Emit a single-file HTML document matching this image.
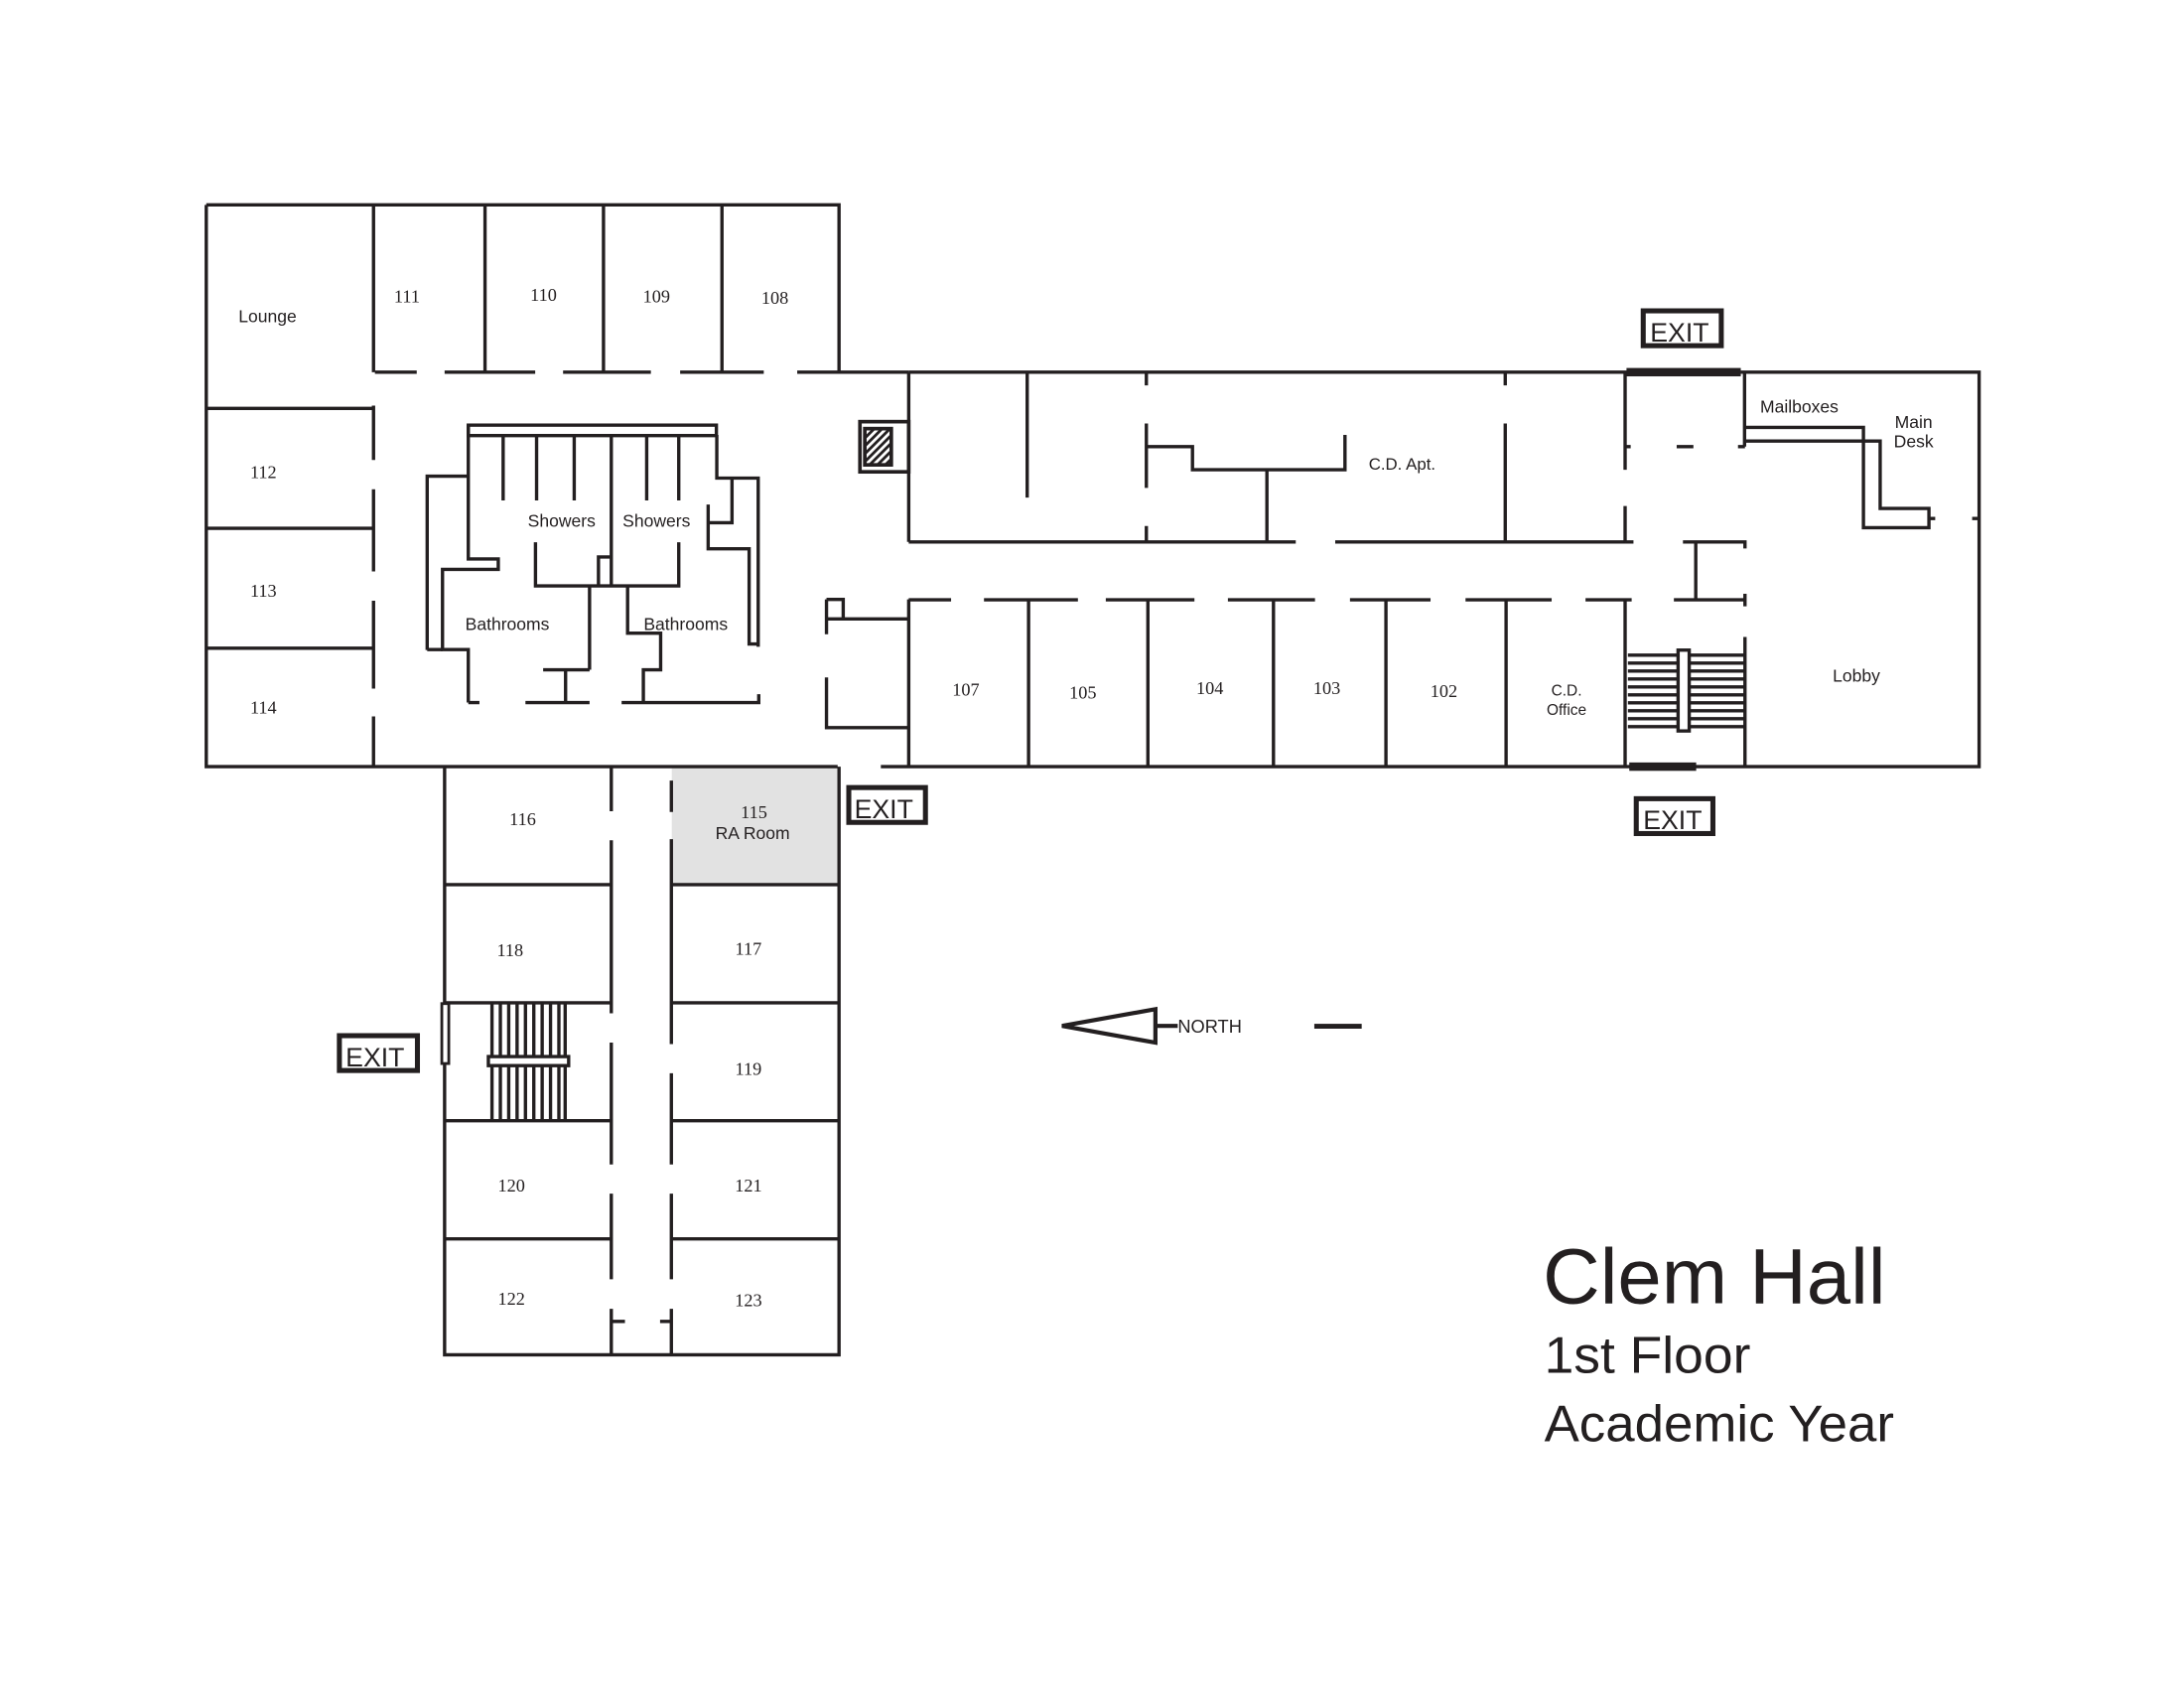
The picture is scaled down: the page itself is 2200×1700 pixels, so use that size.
<!DOCTYPE html>
<html><head><meta charset="utf-8"><style>
html,body{margin:0;padding:0;background:#fff;}
svg{display:block;}
.w{stroke:#231f20;stroke-width:2.4;fill:none;stroke-linecap:butt;}
.n{font-family:"Liberation Serif",serif;font-size:13px;fill:#231f20;text-anchor:middle;}
.s{font-family:"Liberation Sans",sans-serif;font-size:12.5px;fill:#231f20;text-anchor:middle;}
.ex{font-family:"Liberation Sans",sans-serif;font-size:19px;fill:#231f20;}
.t{font-family:"Liberation Sans",sans-serif;fill:#231f20;}
</style></head><body>
<svg width="2200" height="1700" viewBox="0 0 1567 1211" preserveAspectRatio="none" xmlns="http://www.w3.org/2000/svg">
<defs>
<pattern id="h" width="4" height="4" patternUnits="userSpaceOnUse" patternTransform="rotate(45)">
<rect width="4" height="4" fill="#fff"/><rect width="2" height="4" fill="#231f20"/></pattern>
</defs>
<rect x="482" y="551" width="120" height="84" fill="#e2e2e2"/>
<g class="w">
<path d="M148,147 H602 V267 M148,147 V550 H601 M632,550 H1420 V267 H1249 M652,267 H1168"/>
<path d="M319,550 V972 H602 V550"/>
<path d="M268,147 V267 M348,147 V267 M433,147 V267 M518,147 V267"/>
<path d="M269,267 H299 M319,267 H384 M404,267 H467 M488,267 H548 M572,267 H652"/>
<path d="M148,293 H268 M148,379 H268 M148,465 H268"/>
<path d="M268,291 V330 M268,351 V410 M268,431 V494 M268,514 V550"/>
<rect x="336" y="305" width="178" height="7.5"/>
<path d="M361,313 V359 M385,313 V359 M412,313 V359 M464,313 V359 M487,313 V359 M438.6,313 V420"/>
<path d="M336,305 V401 H357.5 V408.5 H317.5 V466 H336 V504"/>
<path d="M306.5,466.3 V341.6 H336 M306.5,466 H317.5"/>
<path d="M336,504 H344 M377,504 H423 M446,504 H544.4 V498"/>
<path d="M384.2,389 V420.3 H487 V389 M429.4,420.3 V399.6 H437.6"/>
<path d="M423,420.3 V480.5 M389.7,480.5 H423 M405.8,480.5 V504"/>
<path d="M450.3,420.3 V454.3 H474 V480.5 H461.6 V504"/>
<path d="M514.3,312 V343 H544 V464 M525.2,343 V375 H508.1 M508.1,362 V393.7 H537.5 V462 H544"/>
<rect x="617" y="302.5" width="35" height="36" stroke-width="2.6"/>
<path d="M593,430 V444 H605 V430 H593 M605,444 H652 M593,444 V455 M593,486 V522 H652"/>
<path d="M652,267 V388.8 M652,430 V550"/>
<path d="M737,267 V357 M822.5,267 V276.5 M822.5,303.8 V350 M822.5,377.4 V388.8"/>
<path d="M822.5,320.4 H855.6 V337 H965 V312 M909,337 V388.8"/>
<path d="M652,388.8 H929.7 M958,388.8 H1166"/>
<path d="M1080,267 V276.5 M1080,303.8 V388.8"/>
<path d="M1166,267 V337 M1166,363 V389 M1166,431 V550"/>
<path d="M652,430.3 H682.4 M706,430.3 H773.4 M793.4,430.3 H857 M881,430.3 H943.5 M968.6,430.3 H1026.4 M1051.5,430.3 H1113.3 M1137.6,430.3 H1170.7 M1201,430.3 H1252"/>
<path d="M738,430 V550 M823.6,430 V550 M913.7,430 V550 M994.4,430 V550 M1080.6,430 V550"/>
<path d="M1251.7,267 V320.4 M1166,320.4 H1170 M1203,320.4 H1215 M1247,320.4 H1252"/>
<path d="M1252,306.6 H1337 V378.6 H1384 V364.8 H1349 V316.4 H1252 M1384,372 H1388.5 M1415,372 H1420"/>
<path d="M1166,388.8 H1172 M1207.5,388.8 H1252 V393.5 M1216.7,388.8 V430.3 M1252,426 V435 M1252,457 V550"/>
<path d="M1168,470 H1252 M1168,475.7 H1252 M1168,481.4 H1252 M1168,487.1 H1252 M1168,492.8 H1252 M1168,498.5 H1252 M1168,504.2 H1252 M1168,509.9 H1252 M1168,515.6 H1252 M1168,521.3 H1252"/>
</g>
<rect x="1204" y="466.4" width="8" height="58" fill="#fff" stroke="#231f20" stroke-width="2.4"/>
<rect x="620.5" y="307.5" width="19" height="26" fill="url(#h)" stroke="#231f20" stroke-width="2.6"/>
<rect x="1167" y="264" width="82" height="6" fill="#231f20"/>
<rect x="1169" y="547" width="48" height="6" fill="#231f20"/>
<g class="w">
<path d="M438.6,550 V582 M438.6,602.8 V727 M438.6,748 V835.4 M438.6,856.3 V917.8 M438.6,939 V972 M438.6,948 H448.4"/>
<path d="M481.7,560 V582.5 M481.7,602 V749 M481.7,770 V835.4 M481.7,856.3 V917.8 M481.7,939 V972 M473.6,948 H481.7"/>
<path d="M319,634.7 H438.6 M319,719.4 H438.6 M319,804 H438.6 M319,888.8 H438.6"/>
<path d="M481.7,634.7 H602 M481.7,719.4 H602 M481.7,804 H602 M481.7,888.8 H602"/>
<path d="M353,719.4 V804 M359,719.4 V804 M365,719.4 V804 M371,719.4 V804 M377,719.4 V804 M383,719.4 V804 M389,719.4 V804 M395,719.4 V804 M401,719.4 V804 M405.5,719.4 V804"/>
</g>
<rect x="350.4" y="758" width="57.6" height="6.5" fill="#fff" stroke="#231f20" stroke-width="2.4"/>
<rect x="317" y="720" width="5" height="43" fill="#fff" stroke="#231f20" stroke-width="2"/>
<g fill="#fff" stroke="#231f20" stroke-width="3.6">
<rect x="1179" y="223" width="56" height="25"/>
<rect x="609" y="565" width="55" height="25"/>
<rect x="1174" y="573" width="55" height="25"/>
<rect x="243.5" y="743" width="56" height="25"/>
</g>
<text class="ex" x="1184" y="245">EXIT</text>
<text class="ex" x="613" y="587">EXIT</text>
<text class="ex" x="1179" y="595">EXIT</text>
<text class="ex" x="248" y="765">EXIT</text>
<text class="s" x="192" y="231">Lounge</text>
<text class="n" x="292" y="217">111</text>
<text class="n" x="390" y="216">110</text>
<text class="n" x="471" y="217">109</text>
<text class="n" x="556" y="218">108</text>
<text class="n" x="189" y="343">112</text>
<text class="n" x="189" y="428">113</text>
<text class="n" x="189" y="512">114</text>
<text class="s" x="403" y="378">Showers</text>
<text class="s" x="471" y="378">Showers</text>
<text class="s" x="364" y="452">Bathrooms</text>
<text class="s" x="492" y="452">Bathrooms</text>
<text class="s" x="1006" y="337" style="font-size:12px">C.D. Apt.</text>
<text class="n" x="693" y="499">107</text>
<text class="n" x="777" y="501">105</text>
<text class="n" x="868" y="498">104</text>
<text class="n" x="952" y="498">103</text>
<text class="n" x="1036" y="500">102</text>
<text class="s" x="1124" y="499" style="font-size:11px">C.D.</text>
<text class="s" x="1124" y="513" style="font-size:11px">Office</text>
<text class="s" x="1291" y="296">Mailboxes</text>
<text class="s" x="1373" y="307">Main</text>
<text class="s" x="1373" y="321">Desk</text>
<text class="s" x="1332" y="489">Lobby</text>
<text class="n" x="375" y="592">116</text>
<text class="n" x="541" y="587">115</text>
<text class="s" x="540" y="602">RA Room</text>
<text class="n" x="366" y="686">118</text>
<text class="n" x="537" y="685">117</text>
<text class="n" x="537" y="771">119</text>
<text class="n" x="367" y="855">120</text>
<text class="n" x="537" y="855">121</text>
<text class="n" x="367" y="936">122</text>
<text class="n" x="537" y="937">123</text>
<path d="M762,736 L829,724 V748 Z M829,736 H845" fill="none" stroke="#231f20" stroke-width="3"/>
<text class="t" x="845" y="741" style="font-size:13px">NORTH</text>
<rect x="943" y="734.5" width="34" height="3.5" fill="#231f20"/>
<text class="t" x="1107" y="935" style="font-size:56px" textLength="246" lengthAdjust="spacingAndGlyphs">Clem Hall</text>
<text class="t" x="1108" y="985" style="font-size:37px" textLength="148" lengthAdjust="spacingAndGlyphs">1st Floor</text>
<text class="t" x="1108" y="1034" style="font-size:37px" textLength="251" lengthAdjust="spacingAndGlyphs">Academic Year</text>
</svg>
</body></html>
